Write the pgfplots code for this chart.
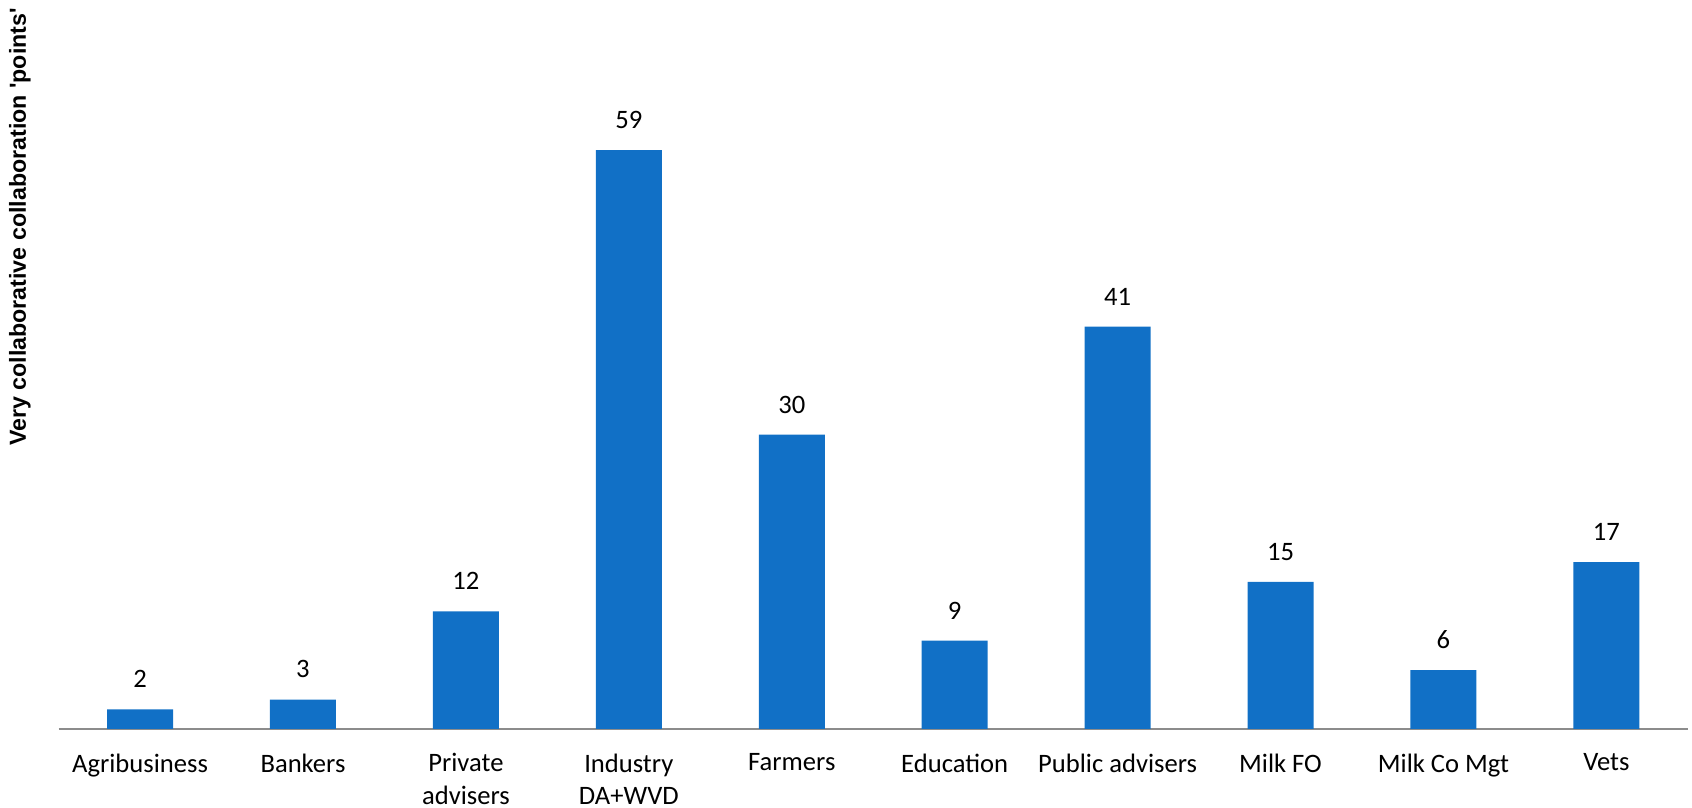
\documentclass[border=0pt]{standalone}
\usepackage{fontspec}
\setmainfont{Carlito}
\newfontfamily\arialfont{Liberation Sans}
\usepackage{pgfplots}
\pgfplotsset{compat=1.18}
\definecolor{barblue}{HTML}{1170C6}
\definecolor{axgray}{HTML}{8C8C8C}
\begin{document}
\begin{tikzpicture}
\useasboundingbox (0,0) rectangle (846pt,404pt);
\begin{axis}[
  at={(29.3pt,39.5pt)}, anchor=south west,
  scale only axis,
  width=814.6pt, height=364.5pt,
  xmin=-0.5, xmax=9.5, ymin=0, ymax=74.3,
  ybar, bar width=33pt,
  axis x line=bottom, axis y line=none,
  x axis line style={-, draw=axgray, line width=0.8pt},
  xtick=data,
  xtick style={draw=none},
  xticklabels={Agribusiness,Bankers,{Private\\advisers},{Industry\\DA+WVD},Farmers,Education,Public advisers,Milk FO,Milk Co Mgt,Vets},
  xticklabel style={font=\fontsize{13.3}{16.2}\selectfont, align=center, anchor=north, inner sep=0pt, yshift=-10pt},
  ytick=\empty,
  /pgf/number format/assume math mode=true,
  nodes near coords,
  every node near coord/.append style={font=\fontsize{13.3}{17}\selectfont, inner sep=0pt, yshift=10.5pt, black},
  clip=false,
]
\addplot[fill=barblue, draw=none] coordinates {
 (0,2) (1,3) (2,12) (3,59) (4,30) (5,9) (6,41) (7,15) (8,6) (9,17)
};
\end{axis}
\node[rotate=90, font=\arialfont\bfseries\fontsize{11.6}{14}\selectfont] at (10pt,290.5pt) {Very collaborative collaboration \textquotesingle points\textquotesingle};
\end{tikzpicture}
\end{document}
